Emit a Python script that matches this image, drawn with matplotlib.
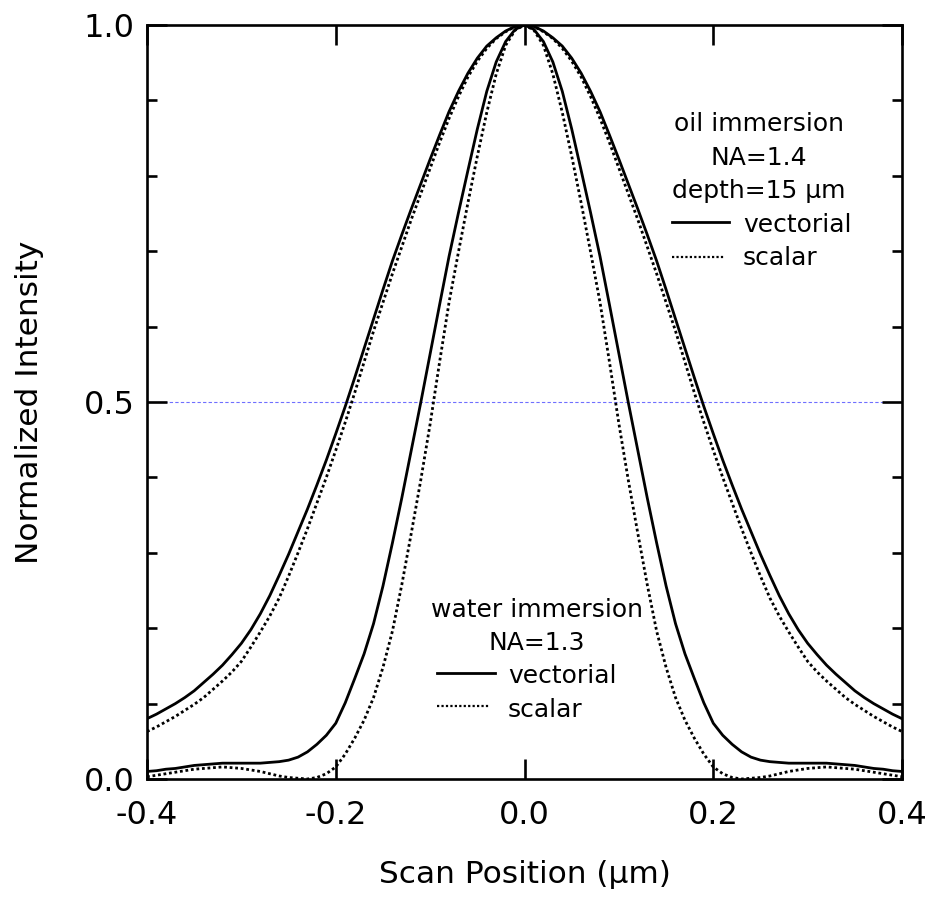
import matplotlib
matplotlib.use("Agg")
import matplotlib.pyplot as plt
from matplotlib.ticker import MultipleLocator, FixedLocator, FuncFormatter

plt.rcParams['font.family'] = ['DejaVu Sans']
plt.rcParams['axes.unicode_minus'] = False

# ---------------- data ----------------
scan_x = [-0.40, -0.39, -0.38, -0.37, -0.36, -0.35, -0.34, -0.33, -0.32, -0.31,
          -0.30, -0.29, -0.28, -0.27, -0.26, -0.25, -0.24, -0.23, -0.22, -0.21,
          -0.20, -0.19, -0.18, -0.17, -0.16, -0.15, -0.14, -0.13, -0.12, -0.11,
          -0.10, -0.09, -0.08, -0.07, -0.06, -0.05, -0.04, -0.03, -0.02, -0.01,
          0.00,
          0.01, 0.02, 0.03, 0.04, 0.05, 0.06, 0.07, 0.08, 0.09, 0.10,
          0.11, 0.12, 0.13, 0.14, 0.15, 0.16, 0.17, 0.18, 0.19, 0.20,
          0.21, 0.22, 0.23, 0.24, 0.25, 0.26, 0.27, 0.28, 0.29, 0.30,
          0.31, 0.32, 0.33, 0.34, 0.35, 0.36, 0.37, 0.38, 0.39, 0.40]

oil_vectorial = [0.080, 0.086, 0.093, 0.100, 0.108, 0.117, 0.128, 0.139, 0.151, 0.165,
                 0.180, 0.198, 0.219, 0.243, 0.270, 0.298, 0.328, 0.358, 0.390, 0.423,
                 0.458, 0.494, 0.532, 0.571, 0.610, 0.649, 0.687, 0.722, 0.756, 0.789,
                 0.822, 0.854, 0.885, 0.912, 0.936, 0.956, 0.972, 0.983, 0.992, 0.998,
                 1.000,
                 0.998, 0.992, 0.983, 0.972, 0.956, 0.936, 0.912, 0.885, 0.854, 0.822,
                 0.789, 0.756, 0.722, 0.687, 0.649, 0.610, 0.571, 0.532, 0.494, 0.458,
                 0.423, 0.390, 0.358, 0.328, 0.298, 0.270, 0.243, 0.219, 0.198, 0.180,
                 0.165, 0.151, 0.139, 0.128, 0.117, 0.108, 0.100, 0.093, 0.086, 0.080]

oil_scalar = [0.063, 0.069, 0.076, 0.083, 0.091, 0.099, 0.108, 0.119, 0.130, 0.142,
              0.156, 0.175, 0.195, 0.216, 0.240, 0.269, 0.300, 0.332, 0.366, 0.400,
              0.436, 0.473, 0.512, 0.553, 0.594, 0.632, 0.670, 0.706, 0.742, 0.776,
              0.810, 0.844, 0.876, 0.905, 0.931, 0.952, 0.969, 0.982, 0.991, 0.998,
              1.000,
              0.998, 0.991, 0.982, 0.969, 0.952, 0.931, 0.905, 0.876, 0.844, 0.810,
              0.776, 0.742, 0.706, 0.670, 0.632, 0.594, 0.553, 0.512, 0.473, 0.436,
              0.400, 0.366, 0.332, 0.300, 0.269, 0.240, 0.216, 0.195, 0.175, 0.156,
              0.142, 0.130, 0.119, 0.108, 0.099, 0.091, 0.083, 0.076, 0.069, 0.063]

water_vectorial = [0.010, 0.011, 0.013, 0.014, 0.016, 0.018, 0.019, 0.020, 0.021, 0.021,
                   0.021, 0.021, 0.021, 0.022, 0.023, 0.025, 0.029, 0.036, 0.046, 0.058,
                   0.074, 0.101, 0.133, 0.166, 0.206, 0.256, 0.313, 0.373, 0.436, 0.499,
                   0.564, 0.629, 0.693, 0.751, 0.807, 0.862, 0.912, 0.951, 0.978, 0.994,
                   1.000,
                   0.994, 0.978, 0.951, 0.912, 0.862, 0.807, 0.751, 0.693, 0.629, 0.564,
                   0.499, 0.436, 0.373, 0.313, 0.256, 0.206, 0.166, 0.133, 0.101, 0.074,
                   0.058, 0.046, 0.036, 0.029, 0.025, 0.023, 0.022, 0.021, 0.021, 0.021,
                   0.021, 0.021, 0.020, 0.019, 0.018, 0.016, 0.014, 0.013, 0.011, 0.010]

water_scalar = [0.003, 0.005, 0.007, 0.009, 0.011, 0.013, 0.014, 0.015, 0.016, 0.015,
                0.014, 0.012, 0.010, 0.007, 0.004, 0.002, 0.001, 0.000, 0.002, 0.007,
                0.016, 0.033, 0.054, 0.078, 0.108, 0.148, 0.196, 0.258, 0.326, 0.396,
                0.471, 0.553, 0.632, 0.699, 0.764, 0.826, 0.884, 0.935, 0.973, 0.993,
                1.000,
                0.993, 0.973, 0.935, 0.884, 0.826, 0.764, 0.699, 0.632, 0.553, 0.471,
                0.396, 0.326, 0.258, 0.196, 0.148, 0.108, 0.078, 0.054, 0.033, 0.016,
                0.007, 0.002, 0.000, 0.001, 0.002, 0.004, 0.007, 0.010, 0.012, 0.014,
                0.015, 0.016, 0.015, 0.014, 0.013, 0.011, 0.009, 0.007, 0.005, 0.003]

half_max = 0.5
x_ticks = [-0.4, -0.2, 0.0, 0.2, 0.4]
y_ticks = [0.0, 0.5, 1.0]

oil_lines = ["oil immersion", "NA=1.4", "depth=15 \u03bcm"]
water_lines = ["water immersion", "NA=1.3"]
legend_labels = ["vectorial", "scalar"]

# ---------------- figure ----------------
fig = plt.figure(figsize=(9.33, 9.01), dpi=100)
ax = fig.add_axes([0.1576, 0.1354, 0.8092, 0.8369])

LW = 2.0
DOT = (0, (1, 1))

ax.axhline(half_max, color='#6f6fff', lw=0.8, ls=(0, (3, 2)), zorder=1)
ax.plot(scan_x, oil_vectorial, color='black', lw=LW, zorder=3)
ax.plot(scan_x, oil_scalar, color='black', lw=LW, ls=DOT, zorder=3)
ax.plot(scan_x, water_vectorial, color='black', lw=LW, zorder=3)
ax.plot(scan_x, water_scalar, color='black', lw=LW, ls=DOT, zorder=3)

ax.set_xlim(-0.4, 0.4)
ax.set_ylim(0.0, 1.0)

ax.xaxis.set_major_locator(FixedLocator(x_ticks))
ax.yaxis.set_major_locator(FixedLocator(y_ticks))
ax.yaxis.set_minor_locator(MultipleLocator(0.1))
fmt = FuncFormatter(lambda v, p: f"{v:.1f}".replace("-0.0", "0.0"))
ax.xaxis.set_major_formatter(fmt)
ax.yaxis.set_major_formatter(fmt)

for s in ax.spines.values():
    s.set_linewidth(1.9)
ax.tick_params(which='both', direction='in', top=True, right=True, width=1.9)
ax.tick_params(which='major', length=14.4, labelsize=23)
ax.tick_params(which='minor', length=7.5)
ax.tick_params(axis='x', which='major', pad=15)
ax.tick_params(axis='y', which='major', pad=9)

ax.set_xlabel("Scan Position (\u03bcm)", fontsize=22.5)
ax.set_ylabel("Normalized Intensity", fontsize=22.5)
ax.xaxis.set_label_coords(0.5, -0.108)
ax.yaxis.set_label_coords(-0.136, 0.5)

TXT = 18
# oil immersion annotation
oil_cx = 0.8106
oil_base = [0.8594, 0.8143, 0.7699]
for t, y in zip(oil_lines, oil_base):
    ax.text(oil_cx, y, t, transform=ax.transAxes, ha='center', va='baseline', fontsize=TXT)
ax.plot([0.6954, 0.7709], [0.7391, 0.7391], transform=ax.transAxes, color='black', lw=LW)
ax.plot([0.6954, 0.7642], [0.6927, 0.6927], transform=ax.transAxes, color='black', lw=1.6, ls=DOT)
ax.text(0.7894, 0.7255, legend_labels[0], transform=ax.transAxes, ha='left', va='baseline', fontsize=TXT)
ax.text(0.7894, 0.6817, legend_labels[1], transform=ax.transAxes, ha='left', va='baseline', fontsize=TXT)

# water immersion annotation
w_cx = 0.5166
w_base = [0.2149, 0.1711]
for t, y in zip(water_lines, w_base):
    ax.text(w_cx, y, t, transform=ax.transAxes, ha='center', va='baseline', fontsize=TXT)
ax.plot([0.3841, 0.4609], [0.1406, 0.1406], transform=ax.transAxes, color='black', lw=LW)
ax.plot([0.3841, 0.4543], [0.0972, 0.0972], transform=ax.transAxes, color='black', lw=1.6, ls=DOT)
ax.text(0.4781, 0.1273, legend_labels[0], transform=ax.transAxes, ha='left', va='baseline', fontsize=TXT)
ax.text(0.4781, 0.0822, legend_labels[1], transform=ax.transAxes, ha='left', va='baseline', fontsize=TXT)

fig.savefig("out.png", dpi=100)
